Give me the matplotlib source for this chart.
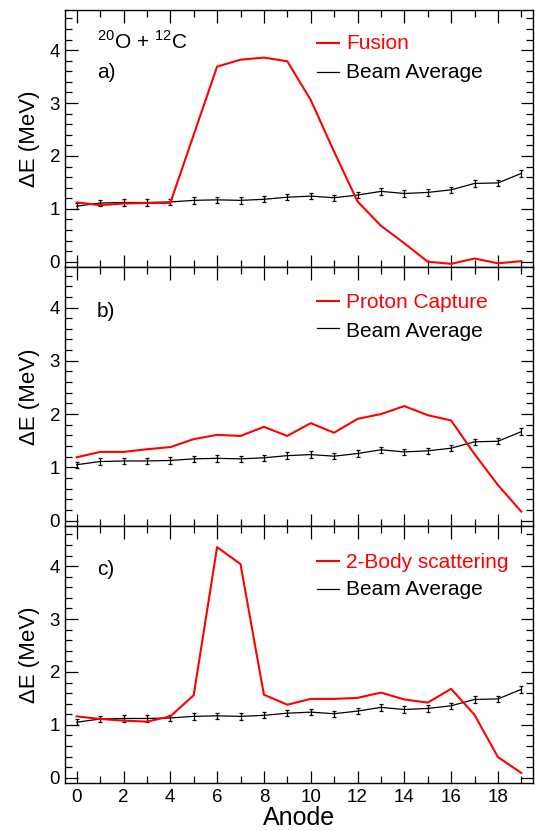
import matplotlib
matplotlib.use("Agg")
import matplotlib.pyplot as plt
from matplotlib.lines import Line2D
from matplotlib.ticker import MultipleLocator

plt.rcParams['font.family'] = ['Liberation Sans', 'DejaVu Sans']
plt.rcParams['mathtext.fontset'] = 'custom'
plt.rcParams['mathtext.rm'] = 'Liberation Sans'

anode = list(range(20))
beam_avg = [1.05, 1.11, 1.12, 1.12, 1.13, 1.16, 1.17, 1.16, 1.18, 1.22,
            1.24, 1.21, 1.26, 1.33, 1.29, 1.31, 1.36, 1.48, 1.49, 1.67]
beam_err = [0.06] * 20
fusion = [1.12, 1.07, 1.10, 1.11, 1.11, 2.40, 3.69, 3.82, 3.86, 3.79,
          3.06, 2.08, 1.14, 0.68, 0.35, 0.00, -0.04, 0.06, -0.03, 0.01]
proton = [1.19, 1.29, 1.29, 1.34, 1.38, 1.53, 1.61, 1.59, 1.76, 1.59,
          1.83, 1.65, 1.91, 2.00, 2.15, 1.98, 1.88, 1.25, 0.67, 0.17]
two_body = [1.16, 1.11, 1.08, 1.06, 1.16, 1.56, 4.36, 4.04, 1.57, 1.38,
            1.49, 1.49, 1.51, 1.61, 1.48, 1.42, 1.68, 1.19, 0.39, 0.09]

labels = ['Fusion', 'Proton Capture', '2-Body scattering']
tags = ['a)', 'b)', 'c)']
series_list = [fusion, proton, two_body]

W, H = 535, 831
fig = plt.figure(figsize=(W / 100, H / 100), dpi=100)
left, right = 65, 533
tops = [10, 267, 526]
bottoms = [267, 526, 783]
# pixel rows (from top) for decorations: leg line1, leg base1, leg line2, leg base2, tag base
rows = [
    (43, 49, 72, 78, 78),
    (301, 308, 328, 337, 317),
    (561, 568, 589, 595, 575),
]
RED = '#ff0000'
FS = 15

axes = []
for i in range(3):
    t, b = tops[i], bottoms[i]
    ax = fig.add_axes([left / W, 1 - b / H, (right - left) / W, (b - t) / H])
    axes.append(ax)
    fy = lambda py: (b - py) / (b - t)
    fx = lambda px: (px - left) / (right - left)
    ax.plot(anode, series_list[i], color=RED, lw=1.5, zorder=3)
    ax.errorbar(anode, beam_avg, yerr=beam_err, color='black', lw=0.9,
                elinewidth=0.9, capsize=1.5, capthick=0.9, zorder=2)
    ax.set_xlim(-0.5, 19.5)
    ax.set_ylim(-0.1, 4.76)
    ax.xaxis.set_major_locator(MultipleLocator(2))
    ax.xaxis.set_minor_locator(MultipleLocator(1))
    ax.yaxis.set_major_locator(MultipleLocator(1))
    ax.yaxis.set_minor_locator(MultipleLocator(0.2))
    ax.tick_params(which='both', direction='in', top=True, right=True,
                   labelsize=13.5, width=0.9)
    ax.tick_params(which='major', length=9)
    ax.tick_params(which='minor', length=5)
    ax.tick_params(axis='x', pad=4)
    for s in ax.spines.values():
        s.set_linewidth(1.0)
    ax.set_ylabel('ΔE (MeV)', fontsize=16, labelpad=7)
    if i < 2:
        ax.tick_params(labelbottom=False)
    l1, b1, l2, b2, tb = rows[i]
    ax.text(fx(97), fy(tb), tags[i], transform=ax.transAxes,
            fontsize=FS, va='baseline', ha='left')
    ax.add_line(Line2D([fx(317), fx(339)], [fy(l1), fy(l1)], color=RED, lw=1.5,
                       transform=ax.transAxes))
    ax.add_line(Line2D([fx(317), fx(339)], [fy(l2), fy(l2)], color='black', lw=0.9,
                       transform=ax.transAxes))
    ax.text(fx(346), fy(b1), labels[i], transform=ax.transAxes, color=RED,
            fontsize=FS, va='baseline', ha='left')
    ax.text(fx(346), fy(b2), 'Beam Average', transform=ax.transAxes,
            fontsize=FS, va='baseline', ha='left')

axes[0].text((97 - left) / (right - left), (267 - 49) / 257,
             r'$^{20}$O + $^{12}$C', transform=axes[0].transAxes,
             fontsize=FS, va='baseline', ha='left')
axes[2].set_xlabel('Anode', fontsize=18, labelpad=0)

fig.savefig('out.png', dpi=100)
